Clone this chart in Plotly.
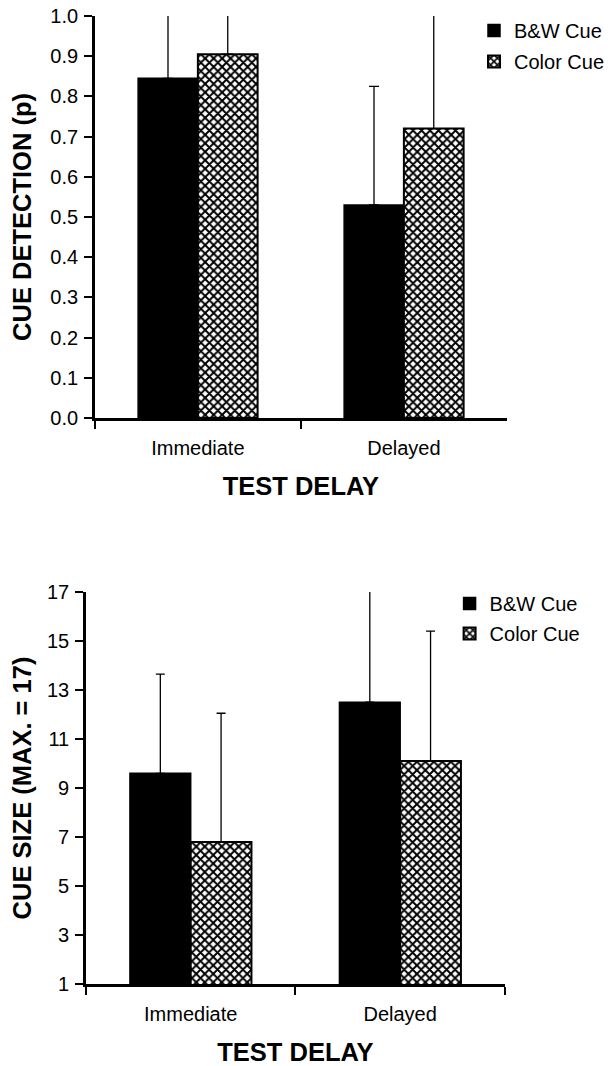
import plotly.graph_objects as go

categories = ["Immediate", "Delayed"]

# Top panel: cue detection (p)
det_bw = [0.845, 0.53]
det_bw_err = [0.25, 0.295]
det_col = [0.905, 0.72]
det_col_err = [0.2, 0.32]

# Bottom panel: cue size (max = 17)
size_bw = [9.6, 12.5]
size_bw_err = [4.05, 5.5]
size_col = [6.8, 10.1]
size_col_err = [5.25, 5.3]

top_ticks = [0.0, 0.1, 0.2, 0.3, 0.4, 0.5, 0.6, 0.7, 0.8, 0.9, 1.0]
bottom_ticks = [1, 3, 5, 7, 9, 11, 13, 15, 17]

FONT = "Arial, Liberation Sans, sans-serif"
W, H = 610, 1066
WX = 588  # effective horizontal scale observed in the rendered page

pattern = dict(shape="x", fgcolor="black", bgcolor="white", size=6, solidity=0.55, fillmode="replace")

fig = go.Figure()

def add_pair(bw, bw_err, col, col_err, xa, ya, leg, capw):
    fig.add_trace(go.Bar(
        x=categories, y=bw, name="B&W Cue", xaxis=xa, yaxis=ya, legend=leg,
        legendgroup=leg + "a",
        marker=dict(color="black", line=dict(color="black", width=1.5)),
        error_y=dict(type="data", array=bw_err, symmetric=False, arrayminus=[0, 0],
                     color="black", thickness=1.3, width=capw),
    ))
    fig.add_trace(go.Bar(
        x=categories, y=col, name="Color Cue", xaxis=xa, yaxis=ya, legend=leg,
        legendgroup=leg + "b",
        marker=dict(color="white", pattern=pattern, line=dict(color="black", width=2)),
        error_y=dict(type="data", array=col_err, symmetric=False, arrayminus=[0, 0],
                     color="black", thickness=1.3, width=capw),
    ))

add_pair(det_bw, det_bw_err, det_col, det_col_err, "x", "y", "legend", 5)
add_pair(size_bw, size_bw_err, size_col, size_col_err, "x2", "y2", "legend2", 4.5)

def px_x(a, b):
    return [a / WX, b / WX]

def px_y(top, bottom):
    return [1 - bottom / H, 1 - top / H]

axis_common = dict(
    showline=True, linecolor="black", linewidth=2.5, mirror=False,
    ticks="outside", tickcolor="black", tickwidth=2, ticklen=8,
    showgrid=False, zeroline=False, automargin=False,
)
xfont = dict(family=FONT, size=20, color="black")
yfont = dict(family=FONT, size=20, color="black")
tfont = dict(family=FONT, size=25.5, color="black")

fig.update_layout(
    width=W, height=H, autosize=False,
    margin=dict(l=0, r=0, t=0, b=0),
    paper_bgcolor="white", plot_bgcolor="white",
    barmode="group", bargap=0.42, bargroupgap=0,
    font=dict(family=FONT, color="black"),
    xaxis=dict(domain=px_x(96, 513), anchor="y", tickson="boundaries", tickfont=xfont,
               ticklabelstandoff=10, **axis_common,
               title=dict(text="<b>TEST DELAY</b>", font=tfont, standoff=20)),
    yaxis=dict(domain=px_y(16, 418), anchor="x", range=[0, 1.0], tickvals=top_ticks,
               tickformat=".1f", tickfont=yfont, ticklabelstandoff=2, **axis_common,
               title=dict(text="<b>CUE DETECTION (p)</b>", font=tfont, standoff=12)),
    xaxis2=dict(domain=px_x(87, 511), anchor="y2", tickson="boundaries", tickfont=xfont,
                ticklabelstandoff=10, **axis_common,
                title=dict(text="<b>TEST DELAY</b>", font=tfont, standoff=20)),
    yaxis2=dict(domain=px_y(592, 984), anchor="x2", range=[1, 17], tickvals=bottom_ticks,
                tickfont=yfont, ticklabelstandoff=2, **axis_common,
                title=dict(text="<b>CUE SIZE (MAX. = 17)</b>", font=tfont, standoff=9)),
    legend=dict(x=480 / WX, y=1 - 11 / H, xanchor="left", yanchor="top",
                font=dict(family=FONT, size=20, color="black"), bgcolor="rgba(0,0,0,0)",
                tracegroupgap=2),
    legend2=dict(x=455 / WX, y=1 - 584 / H, xanchor="left", yanchor="top",
                 font=dict(family=FONT, size=20, color="black"), bgcolor="rgba(0,0,0,0)",
                 tracegroupgap=1),
    showlegend=True,
)

fig.write_html("out.html")
